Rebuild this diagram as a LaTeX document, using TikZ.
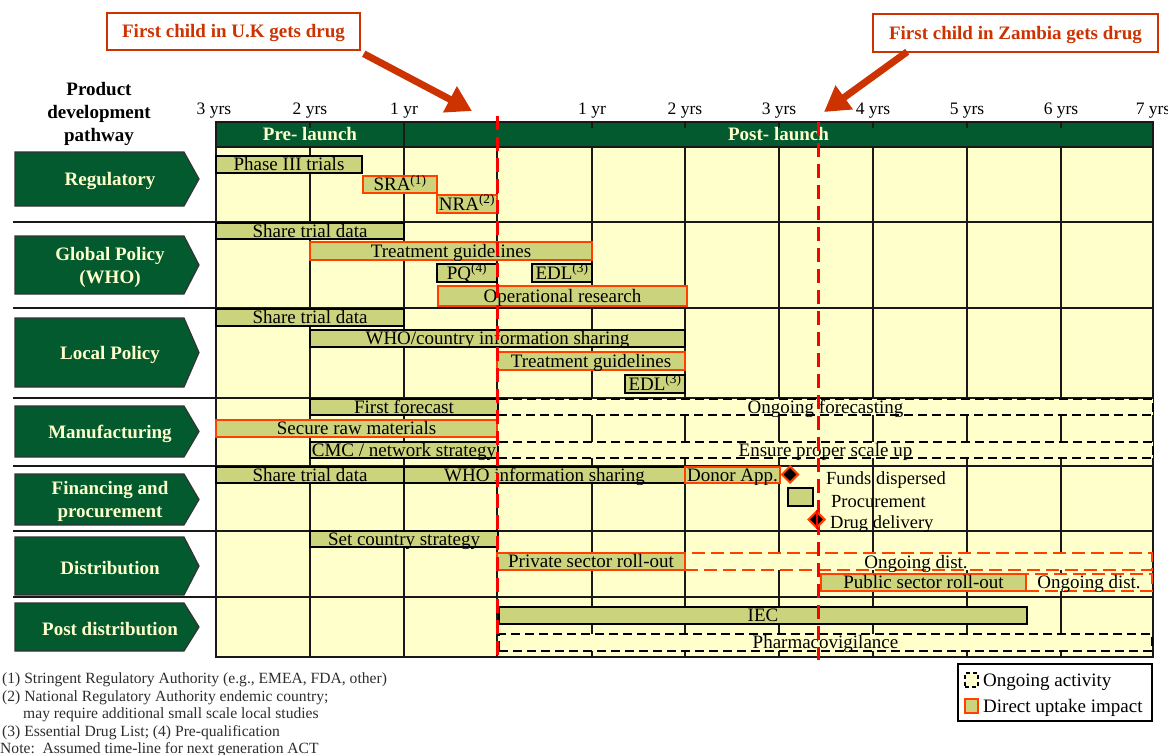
\documentclass[tikz,border=0pt]{standalone}
\usepackage{fontspec}
\setmainfont{Liberation Serif}
\usetikzlibrary{arrows.meta,shapes.geometric}

\definecolor{pathgreen}{RGB}{3,90,46}
\definecolor{cream}{RGB}{255,255,204}
\definecolor{olive}{RGB}{204,211,125}
\definecolor{uptake}{RGB}{255,64,0}
\definecolor{launchred}{RGB}{255,0,0}
\definecolor{callout}{RGB}{204,51,0}
\definecolor{gridline}{RGB}{25,25,25}
\definecolor{notegray}{RGB}{45,45,45}

\tikzset{
  barfont/.style={font=\fontsize{19}{21}\selectfont},
  task/.style={draw=black, line width=1.3pt, fill=olive, inner sep=0pt, outer sep=0pt,
    text height=12.4pt, text depth=0pt, barfont},
  uptakebar/.style={task, draw=uptake, line width=2.4pt},
  ongoing/.style={task, fill=cream, dash pattern=on 9pt off 5pt},
  ongoingred/.style={task, fill=cream, draw=uptake, line width=2.4pt, dash pattern=on 13pt off 6pt},
  gridl/.style={draw=gridline, line width=1.5pt},
  stagebox/.style={fill=pathgreen, draw=black!80, line width=1.2pt},
  stagetext/.style={text=cream, align=center, inner sep=0pt,
    font=\fontsize{19}{23}\selectfont\bfseries},
  headtext/.style={text=cream, inner sep=0pt, text height=12.6pt, text depth=0pt,
    font=\fontsize{19}{22}\selectfont\bfseries},
  yearlbl/.style={anchor=base, inner sep=0pt, font=\fontsize{17.5}{20}\selectfont},
  launchline/.style={draw=launchred, line width=3pt, dash pattern=on 14pt off 7pt},
  calloutbox/.style={draw=callout, line width=1.5pt, fill=white, text=callout, inner sep=0pt,
    text height=12.6pt, text depth=0pt, font=\fontsize{19}{22}\selectfont\bfseries},
  bigarrow/.style={draw=callout, line width=7pt, -{Triangle[length=25pt,width=28pt]}},
  milestone/.style={diamond, fill=black, draw=uptake, line width=2pt, inner sep=0pt,
    minimum width=17pt, minimum height=17pt},
  plaintext/.style={anchor=base west, inner sep=0pt, font=\fontsize{18.5}{20}\selectfont},
  notetext/.style={anchor=base west, inner sep=0pt, text=notegray, font=\fontsize{15.6}{17}\selectfont},
}

% task bar: name, style, x1, y1, x2, y2, label
\newcommand\taskbar[7]{%
  \node[#2, minimum width={(#5-#3)*1pt}, minimum height={(#6-#4)*1pt}]
    (#1) at ({(#3+#5)/2},{(#4+#6)/2}) {#7};}

% stage chevron on the left: name, top, bottom, label
\newcommand\stage[4]{%
  \path[stagebox] (15,#2) -- (184,#2) -- (199,{(#2+#3)/2}) -- (184,#3) -- (15,#3) -- cycle;
  \node[stagetext] (#1) at (110,{(#2+#3)/2+2}) {#4};}

\begin{document}
\begin{tikzpicture}[x=1pt, y=-1pt]
\useasboundingbox (0,0) rectangle (1168,755);

% ---- timeline grid ----
\fill[cream] (216,147) rectangle (1153,657);
\fill[pathgreen] (216,122) rectangle (1153,147);
\foreach \x in {310,404,497,592,685,779,873,967,1061}
  \draw[gridl] (\x,147) -- (\x,657);
\foreach \y in {222,308,398,466,531,597}
  \draw[gridl] (13,\y) -- (1153,\y);
\draw[gridl] (404,122) -- (404,147);
\foreach \x in {310,592,685,779,873,967,1061}
  \draw[gridl] (\x,122) -- (\x,128);
\draw[draw=gridline, line width=2pt] (216,122) rectangle (1153,657);
\draw[draw=gridline, line width=2pt] (216,147) -- (1153,147);

\node[headtext] (pre) at (310,134.5) {Pre- launch};
\node[headtext] (post) at (778.5,134.5) {Post- launch};

% ---- year scale ----
\node[yearlbl] (ym3) at (214,114) {3 yrs};
\node[yearlbl] (ym2) at (310,114) {2 yrs};
\node[yearlbl] (ym1) at (404,114) {1 yr};
\node[yearlbl] (yp1) at (592,114) {1 yr};
\node[yearlbl] (yp2) at (685,114) {2 yrs};
\node[yearlbl] (yp3) at (779,114) {3 yrs};
\node[yearlbl] (yp4) at (873,114) {4 yrs};
\node[yearlbl] (yp5) at (967,114) {5 yrs};
\node[yearlbl] (yp6) at (1061,114) {6 yrs};
\node[yearlbl] (yp7) at (1153,114) {7 yrs};

% ---- title and stages ----
\node[align=center, inner sep=0pt, font=\fontsize{19}{23}\selectfont\bfseries]
  (pathway) at (99,114) {Product\\development\\pathway};
\stage{sReg}{152}{206}{Regulatory}
\stage{sGlob}{236}{294}{Global Policy\\(WHO)}
\stage{sLoc}{318}{387}{Local Policy}
\stage{sMan}{406}{457}{Manufacturing}
\stage{sFin}{474}{525}{Financing and\\procurement}
\stage{sDis}{537}{595}{Distribution}
\stage{sPost}{603}{651}{Post distribution}

% ---- regulatory ----
\taskbar{phase}{task}{216}{156}{362}{173}{Phase III trials}
\taskbar{sra}{uptakebar}{363}{176}{437}{193}{SRA\textsuperscript{(1)}}
\taskbar{nra}{uptakebar}{437}{195}{497}{213}{NRA\textsuperscript{(2)}}

% ---- global policy ----
\taskbar{gShare}{task}{216}{223}{404}{239}{Share trial data}
\taskbar{gTreat}{uptakebar}{310}{242}{592}{260}{Treatment guidelines}
\taskbar{pq}{task}{437}{264}{497}{282}{PQ\textsuperscript{(4)}}
\taskbar{gEdl}{task}{532}{264}{592}{282}{EDL\textsuperscript{(3)}}
\taskbar{opres}{uptakebar}{438}{286}{687}{306}{Operational research}

% ---- local policy ----
\taskbar{lShare}{task}{216}{309}{404}{326}{Share trial data}
\taskbar{lWho}{task}{310}{330}{685}{347}{WHO/country information sharing}
\taskbar{lTreat}{uptakebar}{497}{352}{685}{370}{Treatment guidelines}
\taskbar{lEdl}{task}{625}{375}{685}{393}{EDL\textsuperscript{(3)}}

% ---- manufacturing ----
\taskbar{forecast}{task}{310}{399}{498}{415}{First forecast}
\taskbar{ongForecast}{ongoing}{498}{399}{1153}{415}{Ongoing forecasting}
\taskbar{rawmat}{uptakebar}{216}{420}{497}{437}{Secure raw materials}
\taskbar{cmc}{task}{310}{442}{498}{458}{CMC / network strategy}
\taskbar{scaleup}{ongoing}{498}{442}{1153}{458}{Ensure proper scale up}

% ---- financing and procurement ----
\taskbar{fShare}{task}{216}{467}{404}{483}{Share trial data}
\taskbar{fWho}{task}{404}{467}{685}{483}{WHO information sharing}
\taskbar{donor}{uptakebar}{685}{467}{780}{483}{Donor App.}
\taskbar{procure}{task}{788}{488}{813}{506}{}

% ---- distribution ----
\taskbar{country}{task}{310}{531}{498}{547}{Set country strategy}
\taskbar{ongDistA}{ongoingred}{685}{553}{1152}{570}{}
\node[plaintext, anchor=base, font=\fontsize{19}{21}\selectfont] (ongDistAT) at (916,568) {Ongoing dist.};
\taskbar{private}{uptakebar}{497}{553}{685}{570}{Private sector roll-out}
\taskbar{ongDistB}{ongoingred}{1026}{574}{1152}{591}{Ongoing dist.}
\taskbar{public}{uptakebar}{821}{574}{1026}{591}{Public sector roll-out}

% ---- post distribution ----
\taskbar{iec}{task}{499}{607}{1027}{624}{IEC}
\taskbar{pharma}{ongoing}{499}{634}{1152}{651}{Pharmacovigilance}

% ---- launch markers ----
\draw[launchline] (497,116) -- (497,657);
\draw[launchline] (818,122) -- (818,660);

% ---- milestones ----
\node[milestone] (funds) at (790,474.5) {};
\node[plaintext] (fundsT) at (826,484) {Funds dispersed};
\node[plaintext] (procT) at (831,507) {Procurement};
\node[milestone] (delivery) at (816.5,519.5) {};
\draw[draw=launchred, line width=2pt] (delivery.north) -- (delivery.south);
\node[plaintext] (deliveryT) at (830,528) {Drug delivery};

% ---- call-outs ----
\node[calloutbox, minimum width=253pt, minimum height=37pt] (uk) at (233.5,31.5)
  {First child in U.K gets drug};
\coordinate (ukTip) at (472,111);
\draw[bigarrow] ([xshift=3pt,yshift=-3pt]uk.south east) -- (ukTip);
\node[calloutbox, minimum width=285pt, minimum height=38pt] (zm) at (1015.5,33)
  {First child in Zambia gets drug};
\coordinate (zmTip) at (824,112);
\draw[bigarrow] ([xshift=35pt,yshift=1pt]zm.south west) -- (zmTip);

% ---- legend ----
\node[draw=black, line width=2pt, fill=white, minimum width=194pt, minimum height=57pt,
  inner sep=0pt] (legend) at (1055,692.5) {};
\node[fill=cream, draw=black, line width=1.6pt, dash pattern=on 4pt off 3pt,
  minimum width=13pt, minimum height=14pt, inner sep=0pt] (lgOngoing) at (971.5,680) {};
\node[plaintext, font=\fontsize{19}{21}\selectfont] (lgOngoingT) at (983,686) {Ongoing activity};
\node[fill=olive, draw=uptake, line width=2pt,
  minimum width=13pt, minimum height=14pt, inner sep=0pt] (lgUptake) at (971.5,705.5) {};
\node[plaintext, font=\fontsize{19}{21}\selectfont] (lgUptakeT) at (983,712) {Direct uptake impact};

% ---- notes ----
\node[notetext] (n1) at (2,683) {(1)\ Stringent Regulatory Authority (e.g., EMEA, FDA, other)};
\node[notetext] (n2) at (2,701) {(2)\ National Regulatory Authority endemic country;};
\node[notetext] (n2b) at (23,718) {may require additional small scale local studies};
\node[notetext] (n3) at (2,736) {(3)\ Essential Drug List; (4) Pre-qualification};
\node[notetext] (n4) at (0,753) {Note:\ \ Assumed time-line for next generation ACT};
\end{tikzpicture}
\end{document}
